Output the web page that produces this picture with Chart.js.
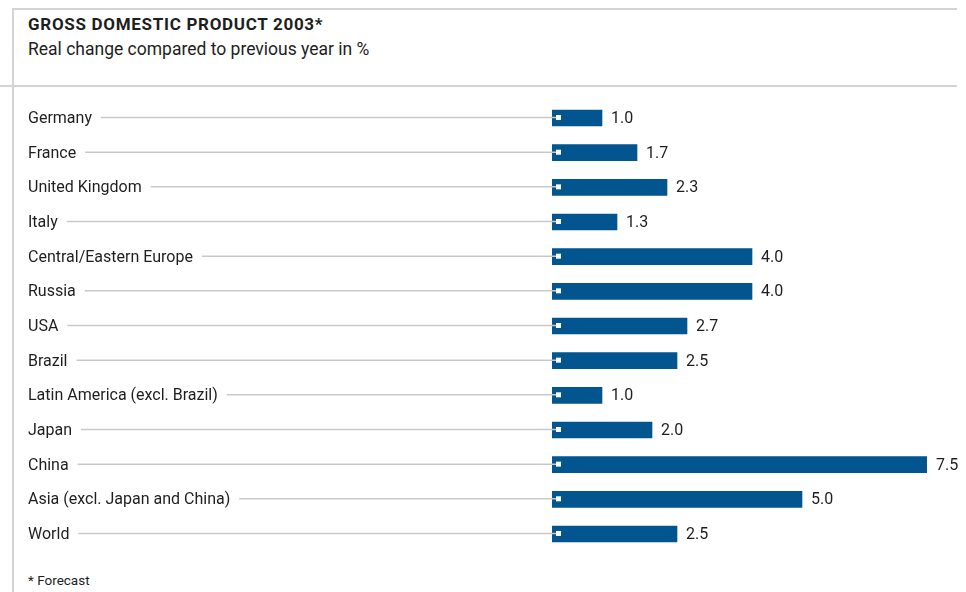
<!DOCTYPE html>
<html>
<head>
<meta charset="utf-8">
<script src="https://cdn.jsdelivr.net/npm/chart.js@4"></script>
<style>
  html, body { margin: 0; padding: 0; background: #fff; }
  body { width: 966px; height: 592px; position: relative; overflow: hidden; font-family: Roboto, "Liberation Sans", sans-serif; color: #1e1e1e; }
  .frame-top { position: absolute; left: 13px; top: 8px; width: 944px; height: 2px; background: #d4d4d4; }
  .frame-mid { position: absolute; left: 0; top: 85px; width: 957px; height: 2px; background: #d4d4d4; }
  .frame-left { position: absolute; left: 12px; top: 8px; width: 2px; height: 584px; background: #d4d4d4; }
  .title { position: absolute; left: 28px; top: 14px; font-size: 17px; font-weight: bold; letter-spacing: 0.7px; }
  .subtitle { position: absolute; left: 28px; top: 39px; font-size: 17.5px; }
  .note { position: absolute; left: 28px; top: 572px; font-size: 13.5px; }
  canvas { position: absolute; left: 0; top: 0; }
</style>
</head>
<body>
<div class="frame-top"></div>
<div class="frame-mid"></div>
<div class="frame-left"></div>
<div class="title">GROSS DOMESTIC PRODUCT 2003*</div>
<div class="subtitle">Real change compared to previous year in %</div>
<div class="note">* Forecast</div>
<canvas id="chart" width="966" height="592"></canvas>
<script>
const categories = [
    'Germany', 'France', 'United Kingdom', 'Italy', 'Central/Eastern Europe',
    'Russia', 'USA', 'Brazil', 'Latin America (excl. Brazil)', 'Japan',
    'China', 'Asia (excl. Japan and China)', 'World'
];
const gdpChange = [1.0, 1.7, 2.3, 1.3, 4.0, 4.0, 2.7, 2.5, 1.0, 2.0, 7.5, 5.0, 2.5];

const BAR_COLOR = '#02558f';
const LINE_COLOR = '#c9c9c9';
const TEXT_COLOR = '#1e1e1e';
const FONT = '16px Roboto, "Liberation Sans", sans-serif';

// labels, leader lines, markers and values drawn off the scales
const decorations = {
    id: 'decorations',
    afterDatasetsDraw(chart) {
        const { ctx, scales: { x, y } } = chart;
        const meta = chart.getDatasetMeta(0);
        ctx.save();
        ctx.font = FONT;
        ctx.textBaseline = 'middle';
        categories.forEach((name, i) => {
            const cy = y.getPixelForValue(i);
            const w = ctx.measureText(name).width;
            // category label
            ctx.fillStyle = TEXT_COLOR;
            ctx.textAlign = 'left';
            ctx.fillText(name, 28, cy + 1);
            // leader line
            ctx.strokeStyle = LINE_COLOR;
            ctx.lineWidth = 1.5;
            ctx.beginPath();
            ctx.moveTo(28 + w + 9, cy - 0.5);
            ctx.lineTo(x.getPixelForValue(0) + 4, cy - 0.5);
            ctx.stroke();
            // white marker
            ctx.fillStyle = '#fff';
            ctx.fillRect(x.getPixelForValue(0) + 4, cy - 3, 5, 5);
            // value
            const bar = meta.data[i];
            ctx.fillStyle = TEXT_COLOR;
            ctx.fillText(gdpChange[i].toFixed(1), bar.x + 9, cy + 1);
        });
        ctx.restore();
    }
};

new Chart(document.getElementById('chart').getContext('2d'), {
    type: 'bar',
    data: {
        labels: categories,
        datasets: [{
            data: gdpChange,
            backgroundColor: BAR_COLOR,
            borderWidth: 0,
            barThickness: 16,
        }]
    },
    options: {
        indexAxis: 'y',
        responsive: false,
        animation: false,
        layout: { padding: { left: 552, right: 39, top: 100.7, bottom: 40.7 } },
        scales: {
            x: { min: 0, max: 7.5, display: false },
            y: { display: false }
        },
        plugins: {
            legend: { display: false },
            tooltip: { enabled: false }
        }
    },
    plugins: [decorations]
});
</script>
</body>
</html>
